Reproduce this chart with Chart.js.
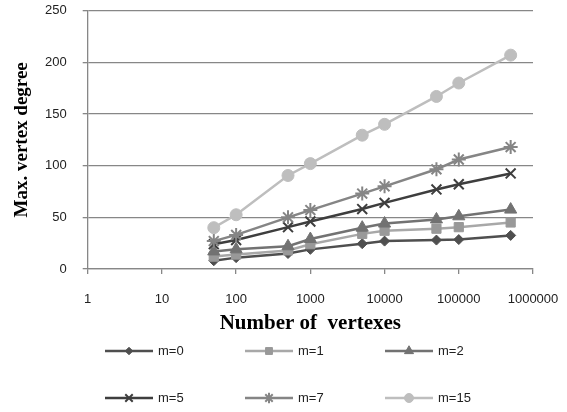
<!DOCTYPE html>
<html>
<head>
<meta charset="utf-8">
<script src="https://cdn.jsdelivr.net/npm/chart.js@4/dist/chart.umd.min.js"></script>
<style>
  html, body { margin: 0; padding: 0; background: #fff; }
  #wrap { width: 567px; height: 412px; position: relative; }
</style>
</head>
<body>
<div id="wrap"><canvas id="myChart"></canvas></div>
<script>
// data
const vertexes = [50, 100, 500, 1000, 5000, 10000, 50000, 100000, 500000];
const m0 = [8, 11, 15, 19, 24.5, 27, 28, 28.5, 32.5];
const m1 = [12, 14, 18, 24, 34, 37, 39, 40.5, 45];
const m2 = [17, 19, 22, 29, 40, 44, 48, 51, 57.5];
const m5 = [24, 28, 40.5, 46, 58, 64, 77, 82, 92.5];
const m7 = [27, 33, 50, 57, 73, 80, 96.5, 106, 118];
const m15 = [40, 52.5, 90.5, 102, 129.5, 140, 167, 180, 207];
const seriesNames = ['m=0', 'm=1', 'm=2', 'm=5', 'm=7', 'm=15'];
const xTicks = [1, 10, 100, 1000, 10000, 100000, 1000000];
const xTickLabels = ['1', '10', '100', '1000', '10000', '100000', '1000000'];
const yTicks = [0, 50, 100, 150, 200, 250];

const styles = [
  { line: '#4f4f4f', fill: '#4f4f4f', point: 'rectRot', r: 5 },
  { line: '#a8a8a8', fill: '#999999', point: 'rect', r: 6.5 },
  { line: '#727272', fill: '#727272', point: 'triangle', r: 7 },
  { line: '#3e3e3e', fill: '#3e3e3e', point: 'crossRot', r: 7 },
  { line: '#858585', fill: '#858585', point: 'star', r: 7 },
  { line: '#bebebe', fill: '#bebebe', point: 'circle', r: 6 }
];

const allSeries = [m0, m1, m2, m5, m7, m15];

function points(vals) {
  return vals.map((v, i) => ({ x: vertexes[i], y: v }));
}

const datasets = allSeries.map((vals, i) => ({
  label: seriesNames[i],
  data: points(vals),
  borderColor: styles[i].line,
  backgroundColor: styles[i].fill,
  pointBorderColor: styles[i].fill,
  pointBackgroundColor: styles[i].fill,
  pointStyle: styles[i].point,
  pointRadius: styles[i].r,
  pointBorderWidth: (styles[i].point === 'crossRot' || styles[i].point === 'star') ? 2 : 1,
  borderWidth: 2.5,
  tension: 0,
  order: allSeries.length - i
}));

// legend drawn by hand: line + marker, 3 columns x 2 rows
const legendCols = [105, 245, 385];
const legendRows = [351, 398];
const legendPlugin = {
  id: 'lineLegend',
  afterDraw(chart) {
    const ctx = chart.ctx;
    chart.data.datasets.forEach((ds, i) => {
      const x = legendCols[i % 3];
      const y = legendRows[Math.floor(i / 3)];
      ctx.save();
      ctx.strokeStyle = ds.borderColor;
      ctx.lineWidth = 2.5;
      ctx.beginPath();
      ctx.moveTo(x, y);
      ctx.lineTo(x + 48, y);
      ctx.stroke();
      ctx.fillStyle = ds.pointBackgroundColor;
      ctx.strokeStyle = ds.pointBorderColor;
      ctx.lineWidth = ds.pointBorderWidth;
      Chart.helpers.drawPoint(ctx, {
        pointStyle: ds.pointStyle,
        radius: ds.pointRadius * 0.75,
        borderWidth: ds.pointBorderWidth,
        rotation: 0
      }, x + 24, y);
      ctx.fillStyle = '#222';
      ctx.font = '13px "Liberation Sans", Arial, sans-serif';
      ctx.textBaseline = 'middle';
      ctx.textAlign = 'left';
      ctx.fillText(ds.label, x + 53, y);
      ctx.restore();
    });
  }
};

var ctx = document.getElementById('myChart').getContext('2d');
var chart = new Chart(ctx, {
  type: 'line',
  data: { datasets: datasets },
  plugins: [legendPlugin],
  options: {
    responsive: true,
    maintainAspectRatio: false,
    animation: false,
    layout: { padding: { left: 10.6, right: 34, top: 10.7, bottom: 75.4 } },
    plugins: {
      legend: { display: false },
      tooltip: { enabled: false }
    },
    scales: {
      x: {
        type: 'logarithmic',
        min: 1,
        max: 1000000,
        afterBuildTicks: s => { s.ticks = xTicks.map(v => ({ value: v })); },
        afterFit: s => {
          s.height = 67.6;
          s.paddingLeft = 0;
          s.paddingRight = 0;
        },
        ticks: {
          padding: 18,
          color: '#222',
          font: { family: '"Liberation Sans", Arial, sans-serif', size: 13 },
          maxRotation: 0,
          autoSkip: false,
          callback: v => xTickLabels[xTicks.indexOf(v)]
        },
        grid: { drawOnChartArea: false, drawTicks: true, tickLength: 5, color: '#878787', lineWidth: 1.3 },
        border: { color: '#878787', width: 1.3 },
        title: {
          display: true,
          text: 'Number of  vertexes',
          color: '#000',
          padding: { top: 0, bottom: 0 },
          font: { family: '"Liberation Serif", "Times New Roman", serif', size: 21, weight: 'bold' }
        }
      },
      y: {
        min: 0,
        max: 250,
        afterBuildTicks: s => { s.ticks = yTicks.map(v => ({ value: v })); },
        afterFit: s => {
          s.width = 77.1;
          s.paddingTop = 0;
          s.paddingBottom = 0;
        },
        ticks: {
          padding: 16,
          color: '#222',
          font: { family: '"Liberation Sans", Arial, sans-serif', size: 13 }
        },
        grid: { color: '#878787', lineWidth: 1.3, tickLength: 5 },
        border: { color: '#878787', width: 1.3 },
        title: {
          display: true,
          text: 'Max. vertex degree',
          color: '#000',
          padding: { top: 0, bottom: 0 },
          font: { family: '"Liberation Serif", "Times New Roman", serif', size: 19, weight: 'bold' }
        }
      }
    }
  }
});
</script>
</body>
</html>
